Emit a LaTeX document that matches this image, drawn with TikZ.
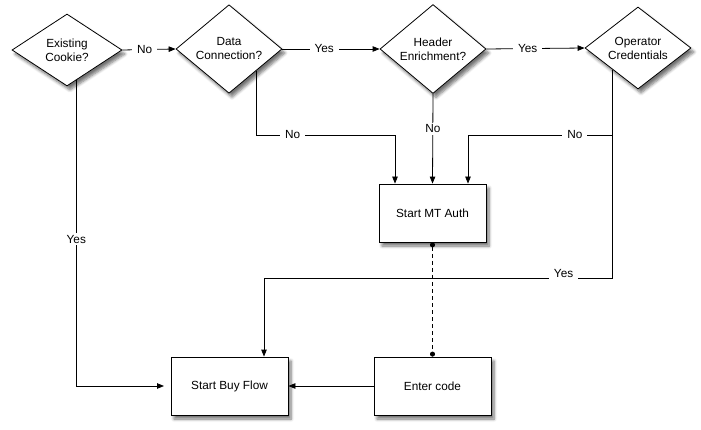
\documentclass[tikz,border=0pt]{standalone}
\usepackage{fontspec}
\setmainfont{Liberation Sans}
\usetikzlibrary{shapes.geometric,arrows.meta,shadows.blur,calc}
\begin{document}
\begin{tikzpicture}[x=1pt,y=-1pt,
  font=\fontsize{11.8}{14}\selectfont,
  line width=0.8pt,
  shad/.style={blur shadow={shadow xshift=3pt,shadow yshift=-4pt,shadow blur steps=6,shadow blur radius=3pt,shadow opacity=55}},
  dec/.style={diamond,draw,fill=white,inner sep=0pt,align=center,shad},
  proc/.style={rectangle,draw,fill=white,minimum height=58pt,align=center,shad},
  arr/.style={-{Triangle[length=7pt,width=5.5pt]}},
  lbl/.style={fill=white,inner xsep=5pt,inner ysep=2pt}
]
\useasboundingbox (0,0) rectangle (701,430);
\node[dec,minimum width=110pt,minimum height=72pt] (d1) at (67,50) {Existing\\Cookie?};
\node[dec,minimum width=106pt,minimum height=78pt] (d2) at (229,49) {Data\\Connection?};
\node[dec,minimum width=106pt,minimum height=79pt] (d3) at (433,49) {Header\\Enrichment?};
\node[dec,minimum width=106pt,minimum height=80pt] (d4) at (638,48) {Operator\\Credentials};
\node[proc,minimum width=107pt] (mt) at (432.5,213) {Start MT Auth};
\node[proc,minimum width=117pt] (sbf) at (229.5,386) {Start Buy Flow};
\node[proc,minimum width=117pt] (ec) at (432.5,386) {Enter code};
\coordinate (j1) at (395,135);
\coordinate (j2) at (468,135);
\coordinate (j3) at (264,278);
\coordinate (j4) at (164,386);
% top row
\draw[arr] (d1.east) -- node[lbl,pos=0.42] {No} (d2.west);
\draw[arr] (d2.east) -- node[lbl,pos=0.43] {Yes} (d3.west);
\draw[arr] (d3.east) -- node[lbl,pos=0.42] {Yes} (d4.west);
% to buy flow
\draw[arr] (d1.-73) |- node[lbl,pos=0.26] {Yes} (j4);
% to MT auth
\draw[arr] (d2.-38) |- node[lbl,pos=0.63] {No} (j1) -- (j1 |- mt.north);
\draw[arr] (d3.south) -- node[lbl,pos=0.39] {No} (mt.north);
\draw[arr] (d4.-140) |- node[lbl,pos=0.63] {No} (j2) -- (j2 |- mt.north);
\draw[arr] (d4.-140) |- node[lbl,pos=0.57,yshift=5pt] {Yes} (j3) -- (j3 |- sbf.north);
% bottom
\draw[dashed,dash pattern=on 4pt off 3pt,{Circle[length=5pt]}-{Circle[length=5pt]}] (mt.south) -- (ec.north);
\draw[arr] (ec.west) -- (sbf.east);
\end{tikzpicture}
\end{document}
